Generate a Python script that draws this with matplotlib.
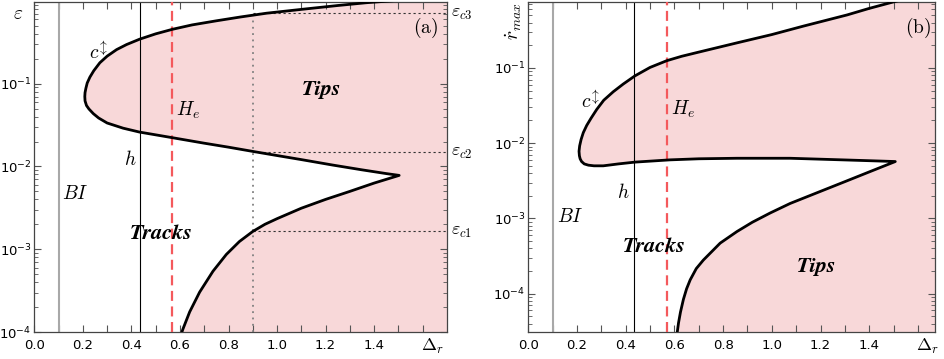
import matplotlib

matplotlib.use("Agg")
import matplotlib.pyplot as plt
import matplotlib.transforms as mtransforms
from matplotlib.ticker import LogLocator, NullFormatter, FixedLocator
import numpy as np

plt.rcParams["mathtext.fontset"] = "cm"

# vertical reference lines (Delta_r)
X_BI = 0.10
X_H = 0.435
X_HE = 0.568

# panel (a): epsilon boundary (top -> nose -> cusp -> bottom)
eps_x = [1.56, 1.366, 1.25, 1.10, 0.956, 0.85, 0.75, 0.65, 0.569, 0.50, 0.434, 0.38,
         0.339, 0.30, 0.27, 0.245, 0.229, 0.218, 0.2125, 0.209, 0.208, 0.209, 0.215,
         0.225, 0.243, 0.265, 0.30, 0.366, 0.434, 0.50, 0.571, 0.70, 0.80, 0.90, 1.00,
         1.10, 1.229, 1.35, 1.45, 1.503,
         1.40, 1.30, 1.20, 1.10, 1.00, 0.95, 0.90, 0.845, 0.791, 0.736, 0.681, 0.640,
         0.612, 0.600]
eps_y = [1.05, 0.95, 0.88, 0.79, 0.71, 0.64, 0.575, 0.513, 0.454, 0.40, 0.345, 0.297,
         0.258, 0.215, 0.179, 0.1435, 0.120, 0.102, 0.088, 0.078, 0.070, 0.062, 0.0545,
         0.0495, 0.0435, 0.0385, 0.0335, 0.029, 0.0260, 0.0241, 0.0222, 0.0191, 0.0171,
         0.0152, 0.01355, 0.0121, 0.0104, 0.0091, 0.0082, 0.0078,
         0.0063, 0.0050, 0.0040, 0.00313, 0.00234, 0.0020, 0.00164, 0.00124, 0.000865,
         0.000542, 0.000303, 0.000175, 0.000108, 0.000085]
eps_crit = [0.00166, 0.0148, 0.72]
eps_crit_labels = [r"$\varepsilon_{c1}$", r"$\varepsilon_{c2}$", r"$\varepsilon_{c3}$"]
X_CRIT = 0.90

# panel (b): rdot_max boundary
rdot_x = [1.56, 1.50, 1.40, 1.309, 1.13, 1.00, 0.857, 0.70, 0.63, 0.569, 0.50, 0.438,
          0.39, 0.349, 0.31, 0.281, 0.258, 0.24, 0.226, 0.217, 0.211, 0.2085, 0.21,
          0.213, 0.219, 0.23, 0.247, 0.27, 0.308, 0.37, 0.438, 0.582, 0.70, 0.857,
          1.075, 1.268, 1.42, 1.507,
          1.40, 1.30, 1.20, 1.075, 0.993, 0.92, 0.857, 0.788, 0.719, 0.69, 0.665, 0.65,
          0.637, 0.625, 0.617, 0.61, 0.606]
rdot_y = [0.85, 0.753, 0.617, 0.505, 0.359, 0.277, 0.215, 0.162, 0.1426, 0.1247,
          0.1014, 0.0783, 0.061, 0.0482, 0.0372, 0.028, 0.0215, 0.0172, 0.0138, 0.0112,
          0.0092, 0.0078, 0.0068, 0.0062, 0.0057, 0.0053, 0.0051, 0.0050, 0.0050,
          0.0053, 0.0056, 0.0060, 0.0062, 0.0063, 0.0063, 0.00603, 0.00582, 0.0057,
          0.00415, 0.00308, 0.00229, 0.00158, 0.00118, 0.00089, 0.00067, 0.00047,
          0.00028, 0.000216, 0.000153, 0.000116, 0.000084, 0.000057, 0.000041,
          0.000028, 0.000024]

XTICKS = np.round(np.arange(0.0, 1.61, 0.1), 1)

FILL = "#f8d8d9"
RED = "#f4595c"
GRAY = "#a8a8a8"
SERIF = "STIXGeneral"


def style_axes(ax, xlim, ylim):
    ax.set_yscale("log")
    ax.set_xlim(*xlim)
    ax.set_ylim(*ylim)
    ax.xaxis.set_major_locator(FixedLocator(XTICKS))
    ax.set_xticklabels([f"{t:.1f}" if (round(t * 10) % 2 == 0 and t < 1.55) else ""
                        for t in XTICKS])
    ax.yaxis.set_major_locator(LogLocator(base=10, numticks=10))
    ax.yaxis.set_minor_locator(LogLocator(base=10, subs=np.arange(2, 10), numticks=20))
    ax.yaxis.set_minor_formatter(NullFormatter())
    ax.tick_params(which="both", direction="in", top=True, right=True,
                   color="#555555", labelsize=9.5)
    ax.tick_params(axis="y", pad=2)
    ax.tick_params(axis="x", pad=5)
    ax.tick_params(which="major", length=5, width=0.8)
    ax.tick_params(which="minor", length=3, width=0.6)
    for s in ax.spines.values():
        s.set_color("#444444")
        s.set_linewidth(0.9)
    trans = mtransforms.blended_transform_factory(ax.transData, ax.transAxes)
    ax.text(1.64, -0.015, r"$\Delta_r$", transform=trans, ha="center", va="top",
            fontsize=13)


def draw_region(ax, xs, ys, xlim, ylim):
    big = xlim[1] * 2
    lo, hi = ylim[0] * 0.1, ylim[1] * 10
    poly_x = list(xs) + [xs[-1], big, big, xs[0]]
    poly_y = list(ys) + [lo, lo, hi, hi]
    ax.fill(poly_x, poly_y, color=FILL, lw=0, zorder=1)
    ax.plot(xs, ys, color="black", lw=2.0, zorder=5, solid_joinstyle="round")


def vlines(ax):
    ax.axvline(X_BI, color=GRAY, lw=1.5, zorder=2)
    ax.axvline(X_H, color="black", lw=0.8, zorder=2)
    ax.axvline(X_HE, color=RED, lw=1.6, ls=(0, (4.5, 2.5)), zorder=3)


def bold_label(ax, x, y, s):
    ax.text(x, y, s, family=SERIF, style="italic", weight="bold", fontsize=16,
            ha="center", va="center", zorder=6)


fig = plt.figure(figsize=(9.45, 3.59), dpi=100)
ax_a = fig.add_axes([0.0363, 0.0752, 0.4367, 0.9192])
ax_b = fig.add_axes([0.5590, 0.0752, 0.4304, 0.9192])

# ---- panel (a)
xlim_a, ylim_a = (0.0, 1.7), (1e-4, 0.97)
draw_region(ax_a, eps_x, eps_y, xlim_a, ylim_a)
vlines(ax_a)
ax_a.plot([X_CRIT, X_CRIT], [ylim_a[0], eps_crit[-1]], color="#808080", lw=1.3,
          ls=(0, (1, 2.5)), zorder=3)
for ec, lab in zip(eps_crit, eps_crit_labels):
    ax_a.plot([X_CRIT, xlim_a[1]], [ec, ec], color="#333333", lw=0.8,
              ls=(0, (2, 2.5)), zorder=3, clip_on=False)
    ax_a.text(xlim_a[1] + 0.015, ec, lab, ha="left", va="center", fontsize=13)
style_axes(ax_a, xlim_a, ylim_a)
ax_a.text(-0.04, 0.965, r"$\varepsilon$", transform=ax_a.transAxes, ha="center",
          va="center", fontsize=14)
ax_a.text(1.61, 0.47, r"$\mathrm{(a)}$", ha="center", va="center", fontsize=14)
bold_label(ax_a, 1.183, 0.085, "Tips")
bold_label(ax_a, 0.525, 0.00156, "Tracks")
ax_a.text(0.583, 0.047, r"$H_e$", fontsize=14, ha="left", va="center")
ax_a.text(0.42, 0.0121, r"$h$", fontsize=14, ha="right", va="center")
ax_a.text(0.262, 0.243, r"$c^{\!\updownarrow}$", fontsize=14, ha="center", va="center")
ax_a.text(0.167, 0.0047, r"$BI$", fontsize=14, ha="center", va="center")

# ---- panel (b)
xlim_b, ylim_b = (0.0, 1.67), (3.1e-5, 0.75)
draw_region(ax_b, rdot_x, rdot_y, xlim_b, ylim_b)
vlines(ax_b)
style_axes(ax_b, xlim_b, ylim_b)
ax_b.text(-0.035, 1.0, r"$\dot{r}_{max}$", transform=ax_b.transAxes, rotation=90,
          ha="center", va="top", fontsize=14)
ax_b.text(1.60, 0.34, r"$\mathrm{(b)}$", ha="center", va="center", fontsize=14)
bold_label(ax_b, 1.186, 0.00023, "Tips")
bold_label(ax_b, 0.52, 0.00042, "Tracks")
ax_b.text(0.585, 0.028, r"$H_e$", fontsize=14, ha="left", va="center")
ax_b.text(0.415, 0.0022, r"$h$", fontsize=14, ha="right", va="center")
ax_b.text(0.255, 0.037, r"$c^{\!\updownarrow}$", fontsize=14, ha="center", va="center")
ax_b.text(0.174, 0.00105, r"$BI$", fontsize=14, ha="center", va="center")

fig.savefig("out.png", dpi=100)
